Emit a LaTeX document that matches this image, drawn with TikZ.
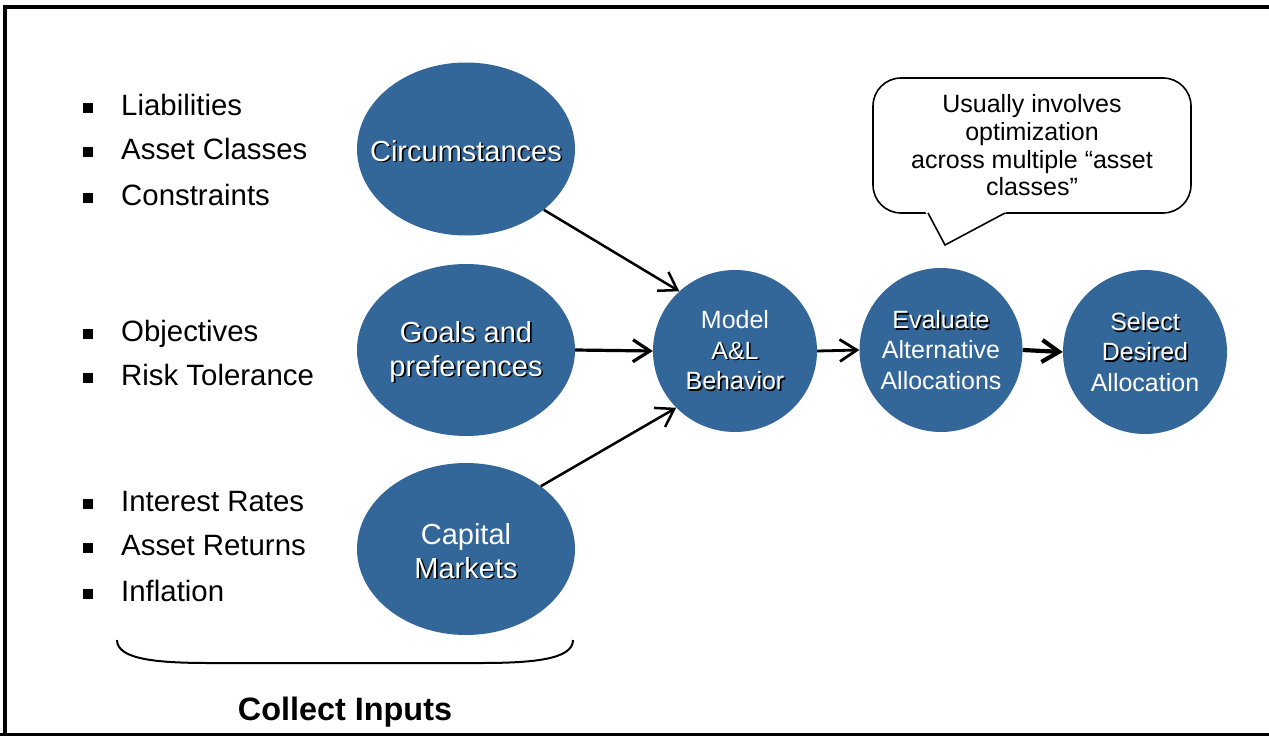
\documentclass[tikz,border=0pt]{standalone}
\usepackage{fontspec}
\setmainfont{Liberation Sans}
\usetikzlibrary{shapes.geometric,arrows.meta}
\definecolor{nodeblue}{RGB}{51,102,153}
\newcommand{\shtx}[1]{\leavevmode\rlap{\kern1.6pt\raisebox{-1.6pt}{\textcolor{black}{#1}}}#1}
\begin{document}
\begin{tikzpicture}[x=1pt,y=-1pt,
  blob/.style={ellipse, fill=nodeblue, inner sep=0pt},
  bigtxt/.style={text=white, align=center, font=\fontsize{29}{34}\selectfont, yshift=-2.5pt},
  smalltxt/.style={text=white, align=center, font=\fontsize{25}{30.5}\selectfont},
  item/.style={anchor=base west, font=\fontsize{29.4}{34}\selectfont, inner sep=0pt},
  bsq/.style={fill=black, draw=none, minimum size=9.5pt, inner sep=0pt},
  conn/.style={draw=black, line width=2.5pt, -{Straight Barb[length=17pt,width=22pt]}},
]
\useasboundingbox (0,0) rectangle (1269,736);

% frame
\draw[line width=4pt] (5,736) -- (5,6.5) -- (1269,6.5);
\draw[line width=3pt] (0,734.5) -- (1269,734.5);

% bullet lists
\foreach \y/\t [count=\i] in {115/Liabilities,159/Asset Classes,205/Constraints,341/Objectives,385/Risk Tolerance,511/Interest Rates,555/Asset Returns,601/Inflation}{
  \node[bsq] (b\i) at (88,\y-7) {};
  \node[item] (t\i) at (121,\y) {\t};
}

% input ellipses
\node[blob, minimum width=218pt, minimum height=173pt,
  label={[bigtxt]center:\shtx{Circumstances}}] (circ) at (466,149) {};
\node[blob, minimum width=218pt, minimum height=172pt,
  label={[bigtxt]center:\shtx{Goals and}\\\shtx{preferences}}] (goals) at (466,350) {};
\node[blob, minimum width=218pt, minimum height=172pt,
  label={[bigtxt]center:Capital\\\shtx{Markets}}] (cap) at (466,549) {};

% process circles
\node[blob, minimum width=164pt, minimum height=162pt,
  label={[smalltxt]center:Model\\\shtx{A\&L}\\\shtx{Behavior}}] (model) at (735,351) {};
\node[blob, minimum width=163pt, minimum height=164pt,
  label={[smalltxt]center:\shtx{Evaluate}\\Alternative\\Allocations}] (eval) at (941,350) {};
\node[blob, minimum width=164pt, minimum height=164pt,
  label={[smalltxt]center:\shtx{Select}\\\shtx{Desired}\\Allocation}] (sel) at (1145,352) {};

% connectors
\draw[conn] (circ.-38) -- (model.133);
\draw[conn, line width=3.2pt] (goals.east) -- (model.west);
\draw[conn] (cap.40) -- (model.-136);
\draw[conn, line width=2.8pt] (model.east) -- (eval.west);
\draw[conn, line width=4.2pt] (eval.east) -- (sel.west);

% callout
\node[draw, fill=white, line width=1.6pt, rounded corners=28pt, minimum width=318pt, minimum height=135pt,
      align=center, font=\fontsize{25}{27.7}\selectfont] (bub) at (1032,145.5)
  {Usually involves\\optimization\\across multiple “asset\\classes”};
\coordinate (tl) at (928,213);
\coordinate (tip) at (945,245);
\coordinate (tr) at (1005,213);
\fill[white] (925,211.3) -- (tip) -- (1008,211.3) -- cycle;
\draw[line width=1.6pt, line join=miter] (tl) -- (tip) -- (tr);

% brace
\draw[line width=2pt] (117,640) .. controls (117,660) and (160,663) .. (210,663) -- (480,663)
  .. controls (530,663) and (573,660) .. (573,640);
\node[font=\fontsize{32.4}{38}\selectfont\bfseries] (ci) at (345,712) {Collect Inputs};
\end{tikzpicture}
\end{document}
